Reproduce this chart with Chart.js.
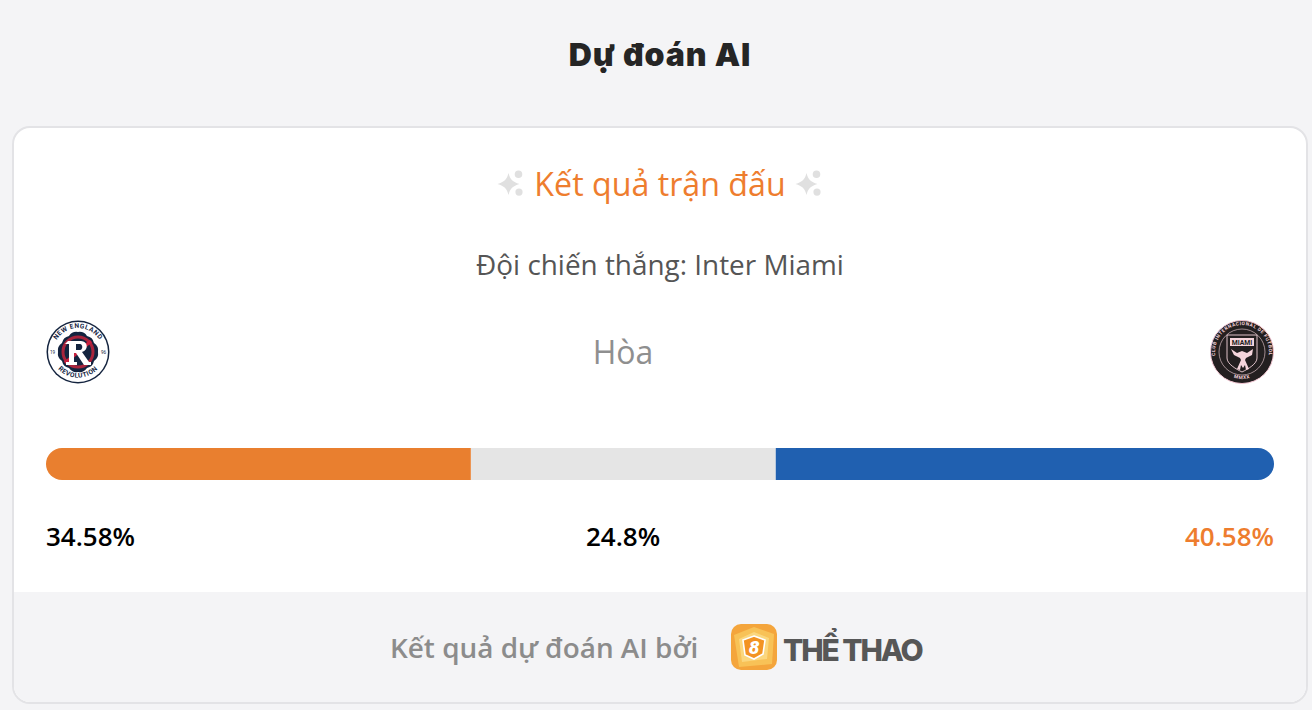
<!DOCTYPE html>
<html lang="vi"><head><meta charset="utf-8">
<script src="https://cdn.jsdelivr.net/npm/chart.js@4"></script>
<style>
html,body{margin:0;padding:0;width:1312px;height:710px;overflow:hidden;background:#f4f4f6;font-family:"Open Sans",sans-serif}
.t{position:absolute;white-space:nowrap;line-height:1}
.c{transform:translateX(-50%)}
#card{position:absolute;left:12px;top:126px;width:1292px;height:574px;background:#fff;border:2px solid #e3e3e6;border-radius:18px;overflow:hidden}
#foot{position:absolute;left:0;right:0;top:464px;bottom:0;background:#f4f4f6}
#wrap{position:absolute;left:46px;top:448px;width:1228px;height:32px}
svg{position:absolute;overflow:visible}
</style></head><body>
<div id="card"><div id="foot"></div></div>

<div class="t c" style="left:660px;top:37px;font:900 32px Inter,sans-serif;letter-spacing:.9px;color:#252525;line-height:36px">Dự đoán AI</div>

<svg style="left:497px;top:169px" width="28" height="30" viewBox="0 0 28 30"><path id="sp" fill="#e0e0e0" d="M11.5 4c1.6 6.4 4.2 9 11 11-6.8 2-9.4 4.6-11 11-1.6-6.4-4.2-9-11-11 6.800-2 9.400-4.600 11-11z M21.500 1.500a3.800 3.800 0 0 1 3.800 3.800 3.800 3.800 0 0 1-3.800 3.800 3.800 3.800 0 0 1-3.800-3.800 3.800 3.800 0 0 1 3.800-3.800z M22 19.500a3.600 3.600 0 0 1 3.600 3.600 3.600 3.600 0 0 1-3.600 3.600 3.600 3.600 0 0 1-3.600-3.600 3.600 3.600 0 0 1 3.600-3.600z"/></svg>
<div class="t c" id="h2" style="left:660px;top:165px;font-size:32.2px;line-height:38px;color:#ee7d2e">Kết quả trận đấu</div>
<svg style="left:795px;top:169px" width="28" height="30" viewBox="0 0 28 30"><use href="#sp"/></svg>

<div class="t c" style="left:660px;top:248px;font-size:27.9px;line-height:32px;color:#555">Đội chiến thắng: Inter Miami</div>
<div class="t c" style="left:623px;top:333px;font-size:32px;line-height:38px;color:#8f8f8f">Hòa</div>

<svg style="left:46px;top:320px" width="64" height="64" viewBox="0 0 64 64">
<circle cx="32" cy="32" r="31.5" fill="#14243f"/><circle cx="32" cy="32" r="30" fill="#fff"/>
<defs><path id="a1" d="M7.500 28a25 25 0 0 1 49 0"/><path id="a2" d="M6 38a27 27 0 0 0 52 0"/></defs>
<text font-family="Roboto" font-weight="700" font-size="6.600" letter-spacing=".5" fill="#14243f" text-anchor="middle"><textPath href="#a1" startOffset="50%">NEW ENGLAND</textPath></text>
<text font-family="Roboto" font-weight="700" font-size="6.600" letter-spacing=".5" fill="#14243f" text-anchor="middle"><textPath href="#a2" startOffset="50%">REVOLUTION</textPath></text>
<text x="6.500" y="34" font-family="Roboto" font-size="4.600" fill="#14243f" text-anchor="middle">19</text><text x="57.500" y="34" font-family="Roboto" font-size="4.600" fill="#14243f" text-anchor="middle">96</text>
<path d="M32 12a9 9 0 0 1 9 4 9 9 0 0 1 7 7 9 9 0 0 1 4 9 9 9 0 0 1-4 9 9 9 0 0 1-7 7 9 9 0 0 1-9 4 9 9 0 0 1-9-4 9 9 0 0 1-7-7 9 9 0 0 1-4-9 9 9 0 0 1 4-9 9 9 0 0 1 7-7 9 9 0 0 1 9-4z" fill="#14243f"/>
<circle cx="32" cy="32" r="15" fill="none" stroke="#a8243c" stroke-width="3"/>
<path d="M19 43 45 21" stroke="#c8213f" stroke-width="3.500"/>
<path d="M22 21h13c7 0 8 9 1 11l7 10h2v3h-7l-8-12h-2v9h3v3h-11v-3h3V24h-4z" fill="#fff"/>
<path d="M30 24v6h4c3 0 3-6 0-6z" fill="#14243f"/>
</svg>

<svg style="left:1210px;top:320px" width="64" height="64" viewBox="0 0 64 64">
<circle cx="32" cy="32" r="31.500" fill="#231f20" stroke="#f2c6d2" stroke-width="1"/>
<circle cx="32" cy="32" r="23" fill="none" stroke="#f5d5dc" stroke-width=".6"/>
<defs><path id="b1" d="M6.500 41a27 27 0 1 1 51 0"/><path id="b2" d="M15 53a27 27 0 0 0 34 0"/></defs>
<text font-family="Roboto" font-weight="700" font-size="4.800" letter-spacing=".55" fill="#f5d5dc" text-anchor="middle"><textPath href="#b1" startOffset="50%">CLUB INTERNACIONAL DE FUTBOL</textPath></text>
<text font-family="Roboto" font-weight="700" font-size="4.800" letter-spacing=".5" fill="#f5d5dc" text-anchor="middle"><textPath href="#b2" startOffset="50%">MMXX</textPath></text>
<path d="M17 15h30v23c0 6-9 11-15 14-6-3-15-8-15-14z" fill="none" stroke="#f5d5dc" stroke-width=".9"/>
<rect x="20" y="18" width="24" height="8" fill="#f5d5dc"/>
<text x="32" y="24.500" font-family="Roboto" font-weight="700" font-size="6.800" fill="#231f20" text-anchor="middle">MIAMI</text>
<path d="M21 29l6 4 5-2 5 2 6-4-1 6-6 3-1 2 4 9-3 1-1-5-2 3-2-3-1 5-3-1 4-9-1-2-6-3z" fill="#f5d5dc"/>
</svg>

<div id="wrap"><canvas id="chart" width="1228" height="32"></canvas></div>

<div class="t" id="l0" style="left:46px;top:521px;font-size:26px;font-weight:600;line-height:30px;color:#000"></div>
<div class="t c" id="l1" style="left:623px;top:521px;font-size:26px;font-weight:600;line-height:30px;color:#000"></div>
<div class="t" id="l2" style="right:38px;top:521px;font-size:26px;font-weight:600;line-height:30px;color:#ee7d2e"></div>

<div class="t" style="left:390px;top:631px;font-size:27.900px;font-weight:600;line-height:32px;color:#8c8c8c">Kết quả dự đoán AI bởi</div>
<svg style="left:731px;top:624px" width="46" height="46" viewBox="0 0 46 46">
<rect width="46" height="46" rx="10" fill="#f4a53c"/>
<path d="M23 3 43 10 41 40 8 43 3 11z" fill="#f8c257"/>
<path d="M23 8 38 14 36 35 11 38 8 15z" fill="#fbd77e"/>
<path d="M23 12 34 16 32 30 23 35 14 31 12 16z" fill="#f39322" stroke="#fff" stroke-width="1.600"/>
<text x="23" y="30" font-family="Roboto" font-style="italic" font-weight="900" font-size="19" fill="#fff" text-anchor="middle">8</text>
</svg>
<div class="t" style="left:783px;top:632px;font:800 30px Inter,sans-serif;line-height:36px;letter-spacing:-2.100px;color:#575757">THỂ THAO</div>

<script>
const categories = ["Kết quả"];
const seriesNames = ["New England Revolution", "Hòa", "Inter Miami"];
const homeValues = [34.58];
const drawValues = [24.8];
const awayValues = [40.58];
const seriesColors = ["#e97f2f", "#e5e5e5", "#2060b0"];

document.getElementById("l0").textContent = homeValues[0] + "%";
document.getElementById("l1").textContent = drawValues[0] + "%";
document.getElementById("l2").textContent = awayValues[0] + "%";

const r = 16;
new Chart(document.getElementById("chart"), {
  type: "bar",
  data: {
    labels: categories,
    datasets: [
      {label: seriesNames[0], data: homeValues, backgroundColor: seriesColors[0],
       borderSkipped: false, inflateAmount: 0, borderRadius: {topLeft: r, bottomLeft: r, topRight: 0, bottomRight: 0}},
      {label: seriesNames[1], data: drawValues, backgroundColor: seriesColors[1],
       borderSkipped: false, inflateAmount: 0, borderRadius: 0},
      {label: seriesNames[2], data: awayValues, backgroundColor: seriesColors[2],
       borderSkipped: false, inflateAmount: 0, borderRadius: {topLeft: 0, bottomLeft: 0, topRight: r, bottomRight: r}}
    ]
  },
  options: {
    indexAxis: "y",
    responsive: false,
    animation: false,
    layout: {padding: 0},
    datasets: {bar: {barPercentage: 1, categoryPercentage: 1}},
    plugins: {legend: {display: false}, title: {display: false}, tooltip: {enabled: false}},
    scales: {
      x: {stacked: true, display: false, min: 0, max: homeValues[0] + drawValues[0] + awayValues[0]},
      y: {stacked: true, display: false}
    }
  }
});
</script>
</body></html>
